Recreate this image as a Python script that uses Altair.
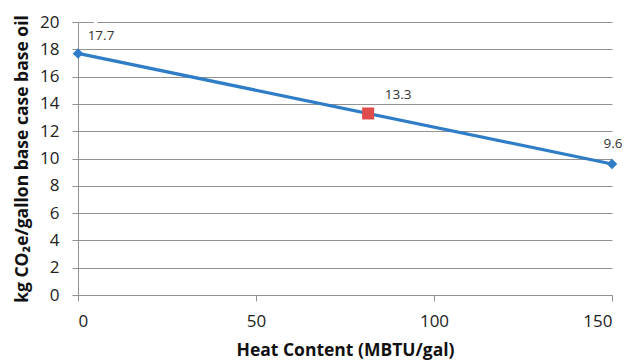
import altair as alt
import pandas as pd

line_x = [0, 150]
line_y = [17.7, 9.6]
mid_x = [81.5]
mid_y = [13.3]

line_df = pd.DataFrame({"x": line_x, "y": line_y, "lab": [str(v) for v in line_y]})
mid_df = pd.DataFrame({"x": mid_x, "y": mid_y, "lab": [str(v) for v in mid_y]})

FONT = "Open Sans"
BLUE = "#2E7DC6"
RED = "#E04B4B"
GRID = "#919191"

xscale = alt.Scale(domain=[0, 150], nice=False)
yscale = alt.Scale(domain=[0, 20], nice=False)

x_enc = alt.X("x:Q", scale=xscale,
              axis=alt.Axis(values=[0, 50, 100, 150], title="Heat Content (MBTU/gal)",
                            grid=False, domainColor=GRID, tickColor=GRID, tickSize=6,
                            labelFontSize=17, labelFont=FONT, labelColor="#222",
                            labelPadding=12, labelOverlap=False, titleFont=FONT, titleFontSize=17.5,
                            titleFontWeight="bold", titleColor="#111", titlePadding=12))
y_enc = alt.Y("y:Q", scale=yscale,
              axis=alt.Axis(values=list(range(0, 21, 2)), title="kg CO₂e/gallon base case base oil",
                            grid=True, gridColor=GRID, gridWidth=1, domainColor=GRID,
                            tickColor=GRID, tickSize=6, labelFontSize=17, labelFont=FONT,
                            labelColor="#222", labelPadding=13, labelOverlap=False, titleFont=FONT,
                            titleFontSize=17.5, titleFontWeight="bold", titleColor="#111",
                            titlePadding=8))

line = alt.Chart(line_df).mark_line(color=BLUE, strokeWidth=3.2).encode(x=x_enc, y=y_enc)
diamonds = alt.Chart(line_df).mark_point(shape="diamond", filled=True, color=BLUE, size=110, opacity=1).encode(x=x_enc, y=y_enc)
square = alt.Chart(mid_df).mark_square(color=RED, size=144, opacity=1).encode(x=x_enc, y=y_enc)


def labels(frame, dx, dy):
    base_bg = alt.Chart(frame).mark_text(font=FONT, fontSize=13.5, dx=dx, dy=dy,
                                         stroke="white", strokeWidth=10, color="white")
    base_fg = alt.Chart(frame).mark_text(font=FONT, fontSize=13.5, dx=dx, dy=dy, color="#333")
    return [base_bg.encode(x=x_enc, y=y_enc, text="lab:N"),
            base_fg.encode(x=x_enc, y=y_enc, text="lab:N")]

l1 = labels(line_df.iloc[[0]], 23, -17)
l2 = labels(mid_df, 30, -18)
l3 = labels(line_df.iloc[[1]], 1, -20)

chart = alt.layer(line, diamonds, square, *l1, *l2, *l3).properties(
    width=534, height=273,
    padding={"left": 78, "top": 22, "right": 15, "bottom": 66},
    autosize=alt.AutoSizeParams(type="none"),
).configure_view(stroke=None)

chart.save("out.html", embed_options={"renderer": "svg", "actions": False})
